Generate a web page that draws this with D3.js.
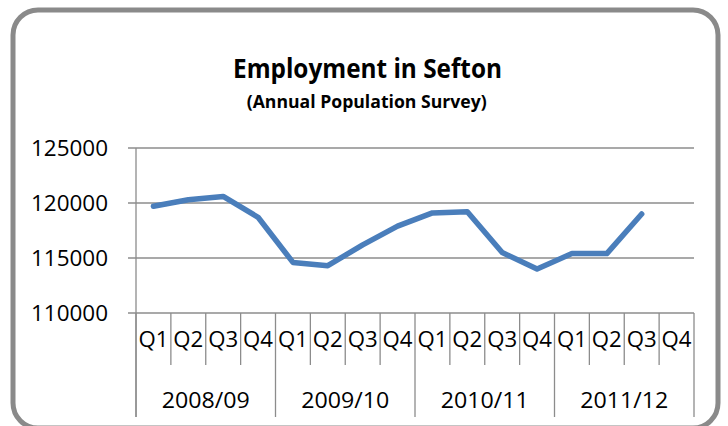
<!DOCTYPE html>
<html>
<head>
<meta charset="utf-8">
<script src="https://cdn.jsdelivr.net/npm/d3@7"></script>
<style>
  body { margin: 0; background: #fff; }
  text { font-family: "Open Sans", "Noto Sans", sans-serif; fill: #000; }
</style>
</head>
<body>
<script>
// chart data
var years = ["2008/09", "2009/10", "2010/11", "2011/12"];
var quarters = ["Q1", "Q2", "Q3", "Q4"];
var employment = [119700, 120300, 120600, 118700,
                  114600, 114300, 116200, 117900,
                  119100, 119200, 115500, 114000,
                  115400, 115400, 119000, null];
var y_ticks = [110000, 115000, 120000, 125000];

var W = 728, H = 426;
var margin = {top: 148, left: 136, right: 34, bottom: 113};

var svg = d3.select("body").append("svg")
  .attr("width", W)
  .attr("height", H);

// rounded outer frame
svg.append("rect")
  .attr("x", 13).attr("y", 10)
  .attr("width", 705).attr("height", 418)
  .attr("rx", 25).attr("ry", 25)
  .style("fill", "#fff")
  .style("stroke", "#8a8a8a")
  .style("stroke-width", 5);

// title
svg.append("text")
  .attr("x", 367.5).attr("y", 78)
  .attr("textLength", 269)
  .attr("lengthAdjust", "spacingAndGlyphs")
  .style("text-anchor", "middle")
  .style("font-weight", "bold")
  .style("font-size", "26px")
  .text("Employment in Sefton");

svg.append("text")
  .attr("x", 366.7).attr("y", 108)
  .attr("textLength", 240)
  .attr("lengthAdjust", "spacingAndGlyphs")
  .style("text-anchor", "middle")
  .style("font-weight", "bold")
  .style("font-size", "18px")
  .text("(Annual Population Survey)");

// category list (year + quarter)
var cats = [];
years.forEach(function(y) {
  quarters.forEach(function(q) { cats.push(y + " " + q); });
});

var x_scale = d3.scaleBand()
  .domain(cats)
  .range([margin.left, W - margin.right]);

var y_scale = d3.scaleLinear()
  .domain([110000, 125000])
  .range([313, margin.top]);

// horizontal gridlines
svg.append("g")
  .selectAll("line")
  .data(y_ticks)
  .enter().append("line")
  .attr("x1", margin.left - 8)
  .attr("x2", W - margin.right)
  .attr("y1", function(d) { return y_scale(d); })
  .attr("y2", function(d) { return y_scale(d); })
  .style("stroke", "#8c8c8c")
  .style("stroke-width", 1.3);

// y labels
svg.append("g")
  .selectAll("text")
  .data(y_ticks)
  .enter().append("text")
  .attr("x", 108)
  .attr("y", function(d) { return y_scale(d); })
  .attr("dy", "0.36em")
  .attr("textLength", 77)
  .attr("lengthAdjust", "spacingAndGlyphs")
  .style("text-anchor", "end")
  .style("font-size", "22px")
  .text(function(d) { return d; });

// y axis line
svg.append("line")
  .attr("x1", margin.left).attr("x2", margin.left)
  .attr("y1", margin.top).attr("y2", 417)
  .style("stroke", "#8c8c8c")
  .style("stroke-width", 1.3);

// category separators
var bw = x_scale.bandwidth();
var seps = d3.range(cats.length + 1);
svg.append("g")
  .selectAll("line")
  .data(seps)
  .enter().append("line")
  .attr("x1", function(i) { return margin.left + i * bw; })
  .attr("x2", function(i) { return margin.left + i * bw; })
  .attr("y1", 313)
  .attr("y2", function(i) { return i % 4 === 0 ? 417 : 365; })
  .style("stroke", "#8c8c8c")
  .style("stroke-width", 1.3);

// quarter labels
svg.append("g")
  .selectAll("text")
  .data(cats)
  .enter().append("text")
  .attr("x", function(d) { return x_scale(d) + bw / 2; })
  .attr("y", 339)
  .attr("dy", "0.36em")
  .attr("textLength", 30)
  .attr("lengthAdjust", "spacingAndGlyphs")
  .style("text-anchor", "middle")
  .style("font-size", "22px")
  .text(function(d) { return d.split(" ")[1]; });

// year labels
svg.append("g")
  .selectAll("text")
  .data(years)
  .enter().append("text")
  .attr("x", function(d) { return x_scale(d + " Q2") + bw; })
  .attr("y", 400)
  .attr("dy", "0.36em")
  .attr("textLength", 88)
  .attr("lengthAdjust", "spacingAndGlyphs")
  .style("text-anchor", "middle")
  .style("font-size", "22px")
  .text(function(d) { return d; });

// the line
var line = d3.line()
  .defined(function(d) { return d != null; })
  .x(function(d, i) { return x_scale(cats[i]) + bw / 2; })
  .y(function(d) { return y_scale(d); });

svg.append("path")
  .datum(employment)
  .attr("d", line)
  .style("fill", "none")
  .style("stroke", "#4a7ebb")
  .style("stroke-width", 5.5)
  .style("stroke-linejoin", "round")
  .style("stroke-linecap", "round");
</script>
</body>
</html>
